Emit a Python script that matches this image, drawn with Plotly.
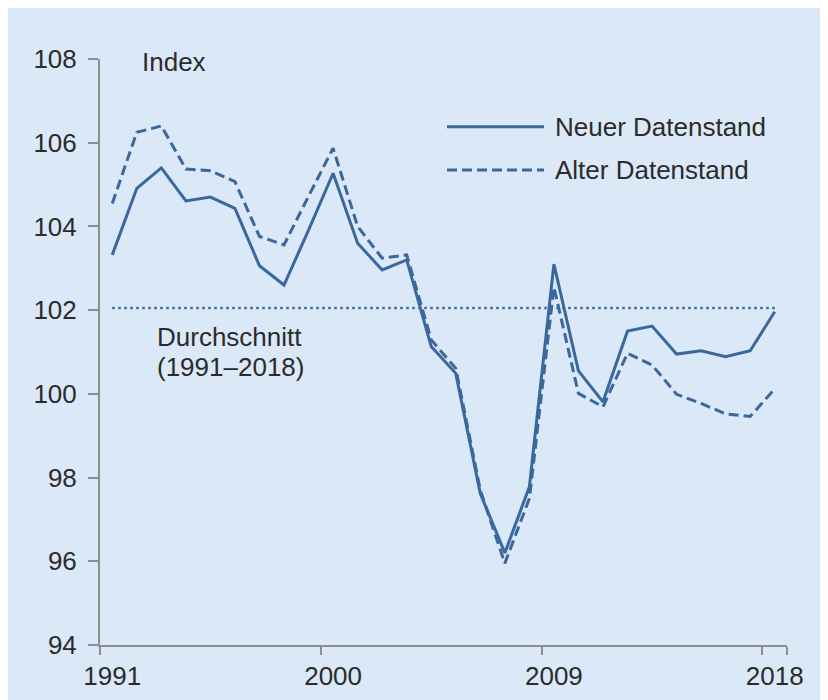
import plotly.graph_objects as go

# ---- data ----
years = [str(y) for y in range(1991, 2019)]
neuer_datenstand = [103.32, 104.91, 105.40, 104.61, 104.70, 104.43, 103.06, 102.60, 103.91, 105.27,
                    103.60, 102.96, 103.20, 101.13, 100.49, 97.62, 96.20, 97.78, 103.10, 100.55,
                    99.81, 101.50, 101.62, 100.95, 101.03, 100.89, 101.03, 101.96]
alter_datenstand = [104.55, 106.25, 106.40, 105.37, 105.33, 105.07, 103.76, 103.56, 104.72, 105.87,
                    104.00, 103.24, 103.32, 101.29, 100.61, 97.70, 95.95, 97.50, 102.55, 100.01,
                    99.69, 100.97, 100.69, 99.99, 99.77, 99.52, 99.46, 100.12]
durchschnitt = [102.05] * len(years)
x_tick_labels = ["1991", "2000", "2009", "2018"]
y_ticks = [94, 96, 98, 100, 102, 104, 106, 108]

BLUE = "#3a689c"
BG = "#dbe8f7"
TXT = "#2b2b2b"
AX = "#8e8e8e"
FONT = "Liberation Sans, Arial, sans-serif"
FS = 26

fig = go.Figure()
fig.add_trace(go.Scatter(x=years, y=durchschnitt, mode="lines",
                         line=dict(color=BLUE, width=2.5, dash="2.5px,3.5px"), showlegend=False))
fig.add_trace(go.Scatter(x=years, y=alter_datenstand, mode="lines", name="Alter Datenstand",
                         line=dict(color=BLUE, width=3, dash="10px,5px"), showlegend=False))
fig.add_trace(go.Scatter(x=years, y=neuer_datenstand, mode="lines", name="Neuer Datenstand",
                         line=dict(color=BLUE, width=3), showlegend=False))

# page is offset by the 8px body margin
W, H = 820, 692
PL, PR, PT, PB = 92, 41, 51, 55
pw = W - PL - PR
OFF = 8

def px2paper(xpx_page):
    return (xpx_page - OFF - PL) / pw

shapes = [
    dict(type="line", xref="paper", yref="y", x0=px2paper(447), x1=px2paper(544),
         y0=106.38, y1=106.38, line=dict(color=BLUE, width=3)),
    dict(type="line", xref="paper", yref="y", x0=px2paper(447), x1=px2paper(544),
         y0=105.35, y1=105.35, line=dict(color=BLUE, width=3, dash="10px,5px")),
]

annotations = [
    dict(text="Index", xref="paper", yref="y", x=px2paper(140), y=107.93,
         xanchor="left", yanchor="middle", showarrow=False),
    dict(text="Durchschnitt", xref="paper", yref="y", x=px2paper(155), y=101.37,
         xanchor="left", yanchor="middle", showarrow=False),
    dict(text="(1991–2018)", xref="paper", yref="y", x=px2paper(155), y=100.65,
         xanchor="left", yanchor="middle", showarrow=False),
    dict(text="Neuer Datenstand", xref="paper", yref="y", x=px2paper(553), y=106.38,
         xanchor="left", yanchor="middle", showarrow=False),
    dict(text="Alter Datenstand", xref="paper", yref="y", x=px2paper(553), y=105.35,
         xanchor="left", yanchor="middle", showarrow=False),
]

fig.update_layout(
    width=W, height=H,
    margin=dict(l=PL, r=PR, t=PT, b=PB, pad=0, autoexpand=False),
    paper_bgcolor=BG, plot_bgcolor=BG,
    font=dict(family=FONT, size=FS, color=TXT),
    showlegend=False,
    shapes=shapes,
    annotations=annotations,
    xaxis=dict(type="category", range=[-0.5, len(years) - 0.5],
               tickmode="array", tickvals=x_tick_labels, ticktext=x_tick_labels,
               tickson="boundaries", ticks="outside", ticklen=8, tickwidth=1.5, tickcolor=AX,
               tickangle=0, automargin=False,
               showline=True, linecolor=AX, linewidth=2, showgrid=False, zeroline=False,
               ticklabelstandoff=7, tickfont=dict(size=FS, color=TXT)),
    yaxis=dict(range=[94, 108], tickmode="array", tickvals=y_ticks,
               ticks="outside", ticklen=10, tickwidth=1.5, tickcolor=AX, automargin=False,
               showline=True, linecolor=AX, linewidth=2, showgrid=False, zeroline=False,
               ticklabelstandoff=6, tickfont=dict(size=FS, color=TXT)),
)

fig.write_html("out.html")
